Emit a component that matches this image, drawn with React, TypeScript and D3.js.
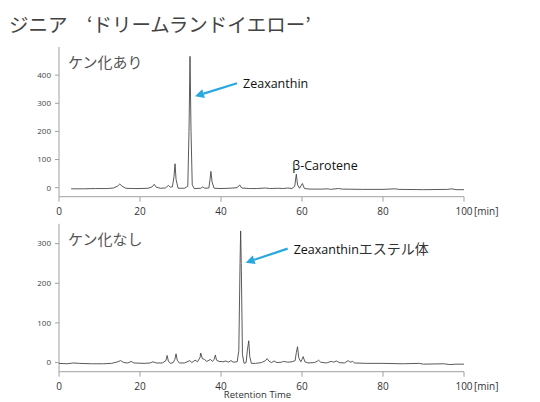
import React from 'react';
import * as d3 from 'd3';

// chromatogram: [retention time (min), signal]
const withSaponification: [number, number][] = [
  [3, -4], [6, -4], [9, -3], [12, -3], [13.5, -1], [14.5, 6], [15, 13], [15.6, 5], [16.5, -2],
  [18, -3], [20, -3], [22, -2], [23, 3], [23.5, 12], [24, 2], [25, -2], [26.3, -1], [27, 8],
  [27.5, 2], [28, 3], [28.4, 40], [28.65, 85], [28.9, 30], [29.4, -2], [31, -2], [31.8, 5],
  [32.1, 200], [32.35, 467], [32.6, 200], [32.9, 10], [33.4, -3], [35, -2], [35.5, 3], [36, -2],
  [37, -1], [37.3, 30], [37.5, 58], [37.8, 20], [38.3, -2], [40, -3], [42, -2], [44, 0],
  [44.6, 10], [45.1, -1], [47, -3], [49, -3], [51, -1], [52, -3], [54, -2], [55.5, -3],
  [56.5, -1], [57.5, -3], [58.2, 5], [58.6, 48], [58.9, 10], [59.4, -2], [60.1, 15], [60.6, -3],
  [62, -5], [65, -5], [66.5, -4], [67, -6], [69, -3], [70, -5], [75, -6], [80, -6], [83, -4],
  [84, -6], [90, -7], [96, -6], [97, -4], [98, -7], [100, -7],
];

const withoutSaponification: [number, number][] = [
  [0, -2], [2, -3], [3.5, -1], [5, -2], [8, -3], [11, -3], [13, -2], [14.5, 2], [15.2, 5],
  [16, 0], [17, -1], [17.8, 3], [18.5, -1], [21, -2], [22.5, -1], [23.2, 2], [24, -1],
  [25.5, -1], [26.4, 5], [26.7, 18], [27, 4], [27.5, -2], [28.2, 0], [28.6, 8], [28.9, 22],
  [29.2, 6], [29.7, -1], [31, -1], [32.3, 5], [32.8, 0], [33.6, 6], [34.2, 2], [34.8, 12],
  [35.0, 24], [35.4, 10], [35.9, 8], [36.5, 3], [37.4, 8], [37.9, 3], [38.3, 8], [38.6, 19],
  [38.9, 6], [39.5, 3], [40.5, 2], [41.2, 4], [41.8, 1], [42.5, 5], [43, 1], [44, 2],
  [44.4, 30], [44.7, 250], [44.85, 332], [45.0, 250], [45.3, 20], [45.7, -2], [46.2, 0],
  [46.5, 30], [46.85, 55], [47.1, 15], [47.5, -2], [48.5, -2], [50, 0], [51, 5], [51.4, 10],
  [51.9, 3], [52.5, 0], [53.1, 4], [53.8, 0], [55, 1], [55.4, 3], [56.5, 1], [57.5, 2],
  [58.3, 5], [58.6, 25], [58.9, 40], [59.2, 12], [59.7, 2], [60.0, 8], [60.3, 15], [60.7, 2],
  [61.5, -1], [63, 0], [63.7, 3], [64.1, 6], [64.6, 1], [66, -1], [67.2, 3], [67.8, 1],
  [68.5, 4], [69.2, 0], [70.5, -1], [71.4, 5], [71.9, 1], [72.5, 3], [73, -1], [76, -2],
  [80, -2], [85, -3], [89, -2], [90, -4], [95, -3], [96.5, -5], [98, -4], [100, -4],
];

const timeTicks = [0, 20, 40, 60, 80, 100];
const topTicks = [0, 100, 200, 300, 400];
const bottomTicks = [0, 100, 200, 300];

const title = 'ジニア　‘ドリームランドイエロー’';
const labelTop = 'ケン化あり';
const labelBottom = 'ケン化なし';

const W = 540;
const H = 402;
const latin = "'Open Sans', 'Noto Sans', sans-serif";
const cjk = "'Noto Sans CJK JP', sans-serif";
const arrowBlue = '#29a8e0';

interface Note {
  text: string;
  time: number;
  value: number;
  dx: number;
  dy: number;
  arrow: boolean;
}

const topNotes: Note[] = [
  { text: 'Zeaxanthin', time: 32.35, value: 325, dx: 48, dy: -9, arrow: true },
  { text: 'β-Carotene', time: 58.6, value: 68, dx: -4, dy: 0, arrow: false },
];
const bottomNotes: Note[] = [
  { text: 'Zeaxanthinエステル体', time: 44.85, value: 252, dx: 48, dy: -10, arrow: true },
];

interface PanelProps {
  data: [number, number][];
  yDomain: [number, number];
  yTicks: number[];
  top: number;
  bottom: number;
  label: string;
  notes: Note[];
}

function Panel({ data, yDomain, yTicks, top, bottom, label, notes }: PanelProps) {
  const x = d3.scaleLinear().domain([0, 100]).range([59, 464]);
  const y = d3.scaleLinear().domain(yDomain).range([bottom, top]);
  const line = d3.line<[number, number]>()
    .x(d => x(d[0]))
    .y(d => y(d[1]));
  const axisColor = '#a0a0a0';

  return (
    <g>
      <text x={68} y={top + 21} fontFamily={cjk} fontSize={15} fill="#555">{label}</text>
      {/* y axis */}
      <line x1={x(0)} x2={x(0)} y1={top} y2={bottom} stroke={axisColor} strokeWidth={1} />
      {yTicks.map(t => (
        <g key={t} transform={`translate(${x(0)},${y(t)})`}>
          <line x1={-4} x2={0} stroke={axisColor} />
          <text x={-8} dy="0.35em" textAnchor="end" fontFamily={latin} fontSize={8} fill="#444">{t}</text>
        </g>
      ))}
      {/* x axis */}
      <line x1={x(0)} x2={x(100)} y1={bottom} y2={bottom} stroke={axisColor} strokeWidth={1} />
      {timeTicks.map(t => (
        <g key={t} transform={`translate(${x(t)},${bottom})`}>
          <line y1={0} y2={5} stroke={axisColor} />
          <text y={15} dy="0.35em" textAnchor="middle" fontFamily={latin} fontSize={10} fill="#333">{t}</text>
          {t === 100 && (
            <text x={10} y={15} dy="0.35em" fontFamily={latin} fontSize={10} fill="#333">[min]</text>
          )}
        </g>
      ))}
      <path d={line(data) ?? ''} fill="none" stroke="#474747" strokeWidth={0.9} strokeLinejoin="round" />
      {notes.map(n => {
        const px = x(n.time);
        const py = y(n.value);
        if (!n.arrow) {
          return (
            <text key={n.text} x={px + n.dx} y={py + 1} fontFamily={latin} fontSize={12.5} fill="#111">{n.text}</text>
          );
        }
        const tipX = px + 5;
        const tailX = tipX + n.dx - 6;
        const tailY = py + n.dy - 4;
        const ang = Math.atan2(py - tailY, tipX - tailX);
        const hl = 9, hw = 4.5;
        const bx = tipX - hl * Math.cos(ang);
        const by = py - hl * Math.sin(ang);
        const head = [
          [tipX, py],
          [bx + hw * Math.sin(ang), by - hw * Math.cos(ang)],
          [bx - hw * Math.sin(ang), by + hw * Math.cos(ang)],
        ].map(p => p.join(',')).join(' ');
        return (
          <g key={n.text}>
            <line x1={tailX} y1={tailY} x2={bx} y2={by} stroke={arrowBlue} strokeWidth={2.2} />
            <polygon points={head} fill={arrowBlue} />
            <text x={tailX + 6} y={tailY + 5} fontFamily={`${latin.split(',')[0]}, ${cjk}`} fontSize={12.5} fill="#111">
              {n.text.replace(/[^\x00-\x7F]+$/, '')}
              <tspan fontFamily={cjk} fontSize={14} fill="#333">{n.text.match(/[^\x00-\x7F]+$/)?.[0] ?? ''}</tspan>
            </text>
          </g>
        );
      })}
    </g>
  );
}

export default function App() {
  return (
    <svg width={W} height={H} style={{ position: 'absolute', left: 0, top: 0, background: '#fff' }}>
      <rect width={W} height={H} fill="#fff" />
      <text x={9} y={32} fontFamily={cjk} fontSize={19.5} fill="#444">{title}</text>
      <Panel
        data={withSaponification}
        yDomain={[-32, 500]}
        yTicks={topTicks}
        top={47}
        bottom={196.7}
        label={labelTop}
        notes={topNotes}
      />
      <Panel
        data={withoutSaponification}
        yDomain={[-23, 350]}
        yTicks={bottomTicks}
        top={223.8}
        bottom={371.7}
        label={labelBottom}
        notes={bottomNotes}
      />
      <text x={257.5} y={398} textAnchor="middle" fontFamily={latin} fontSize={9.5} fill="#333">Retention Time</text>
    </svg>
  );
}
